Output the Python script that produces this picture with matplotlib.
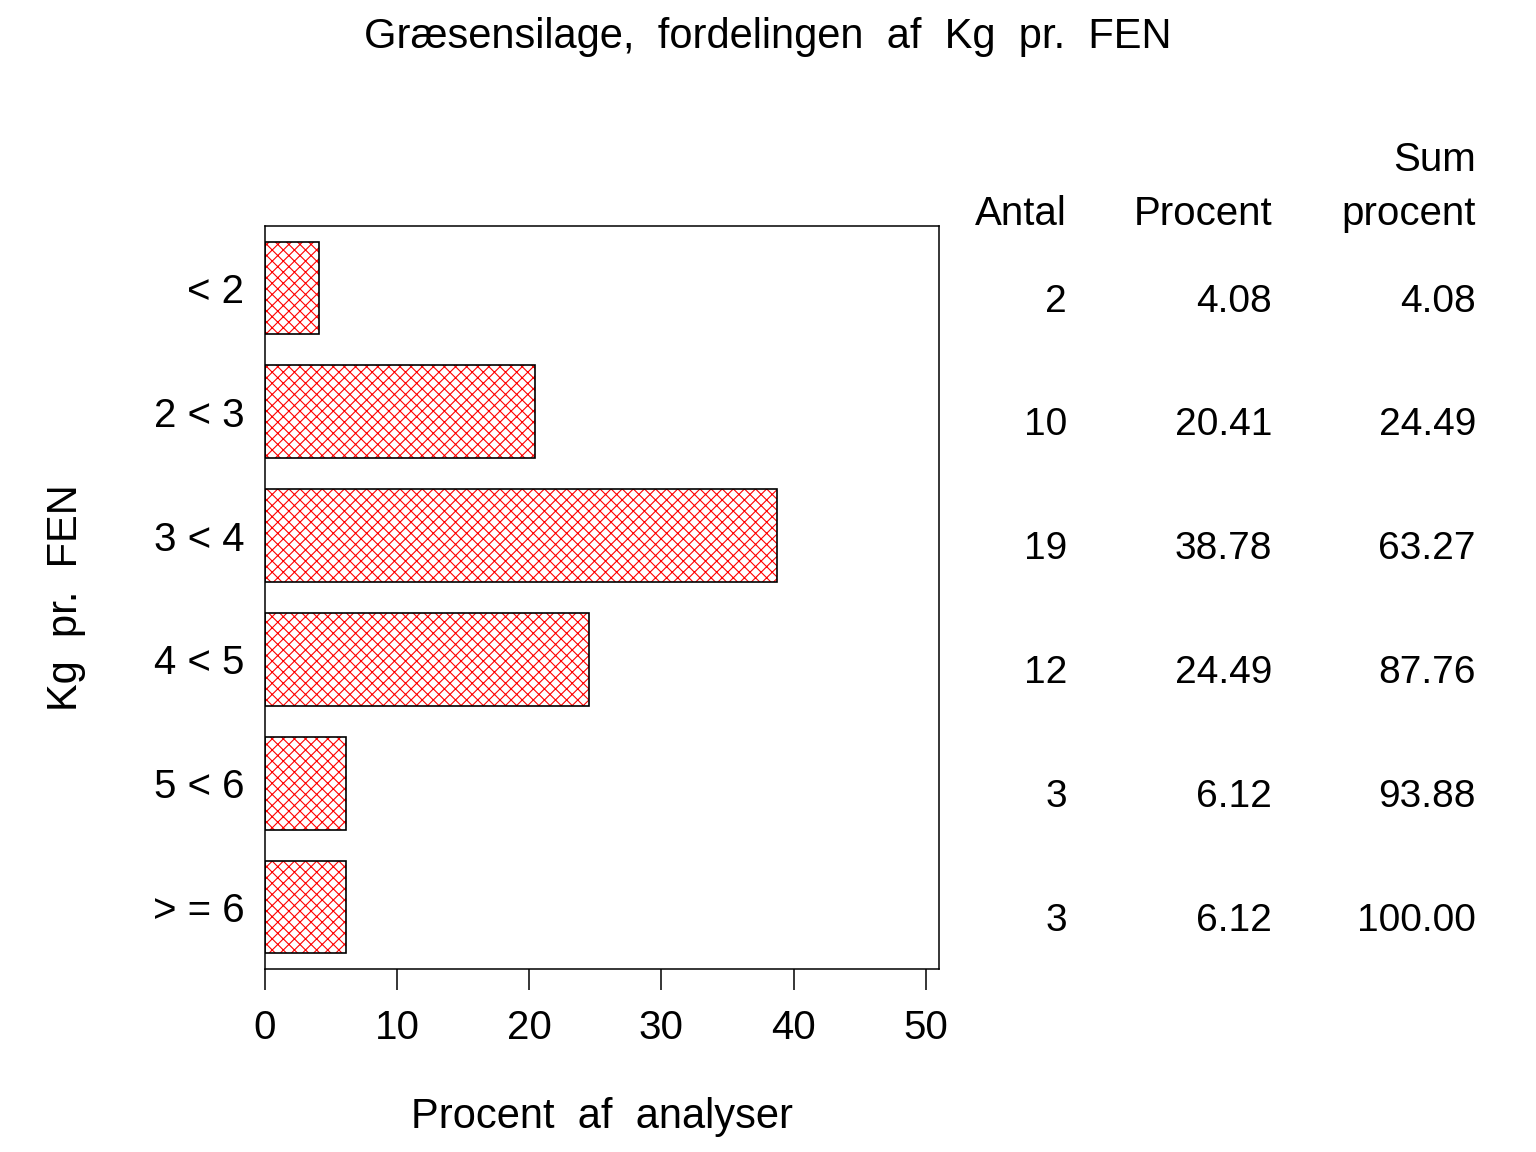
import matplotlib.pyplot as plt
import matplotlib.transforms as mtransforms

plt.rcParams['font.family'] = ['Liberation Sans', 'DejaVu Sans']
plt.rcParams['hatch.linewidth'] = 0.8

# data
cats = ["< 2", "2 < 3", "3 < 4", "4 < 5", "5 < 6", "> = 6"]
antal = [2, 10, 19, 12, 3, 3]
procent = [4.08, 20.41, 38.78, 24.49, 6.12, 6.12]
sum_procent = [4.08, 24.49, 63.27, 87.76, 93.88, 100.00]
xticks = [0, 10, 20, 30, 40, 50]

fig = plt.figure(figsize=(15.36, 11.52), dpi=100)
ax = fig.add_axes([0.1725, 0.1589, 0.6113 - 0.1725, 0.8038 - 0.1589])

ypos = list(range(len(cats)))
# red crosshatch fill, then black outline on top
ax.barh(ypos, procent, height=0.75, color='white', edgecolor='red',
        linewidth=0, hatch='xxx')
ax.barh(ypos, procent, height=0.75, fill=False, edgecolor='black',
        linewidth=1.2)

ax.set_ylim(5.5, -0.5)
ax.set_xlim(0, 51)
ax.set_yticks(ypos)
ax.set_yticklabels(cats, fontsize=29)
ax.set_xticks(xticks)
ax.set_xticklabels([str(t) for t in xticks], fontsize=29)
ax.tick_params(axis='y', length=0, pad=15)
ax.tick_params(axis='x', length=15, width=1.1, pad=14)
for s in ax.spines.values():
    s.set_linewidth(1.1)

ax.set_xlabel("Procent  af  analyser", fontsize=30, labelpad=36)
ax.set_ylabel("Kg  pr.  FEN", fontsize=30, labelpad=48)

fig.suptitle("Græsensilage,  fordelingen  af  Kg  pr.  FEN", fontsize=30, y=0.985)

# table at right
tr = mtransforms.blended_transform_factory(fig.transFigure, ax.transData)
cols_x = [1067 / 1536, 1272 / 1536, 1476 / 1536]
for i in ypos:
    ax.text(cols_x[0], i + 0.11, str(antal[i]), transform=tr, ha='right', va='center',
            fontsize=28, clip_on=False)
    ax.text(cols_x[1], i + 0.11, f"{procent[i]:.2f}", transform=tr, ha='right', va='center',
            fontsize=28, clip_on=False)
    ax.text(cols_x[2], i + 0.11, f"{sum_procent[i]:.2f}", transform=tr, ha='right', va='center',
            fontsize=28, clip_on=False)

fig.text(cols_x[0], 1 - 214 / 1152, "Antal", ha='right', va='center', fontsize=29)
fig.text(cols_x[1], 1 - 214 / 1152, "Procent", ha='right', va='center', fontsize=29)
fig.text(cols_x[2], 1 - 214 / 1152, "procent", ha='right', va='center', fontsize=29)
fig.text(cols_x[2], 1 - 160 / 1152, "Sum", ha='right', va='center', fontsize=29)

fig.savefig("out.png", dpi=100)
